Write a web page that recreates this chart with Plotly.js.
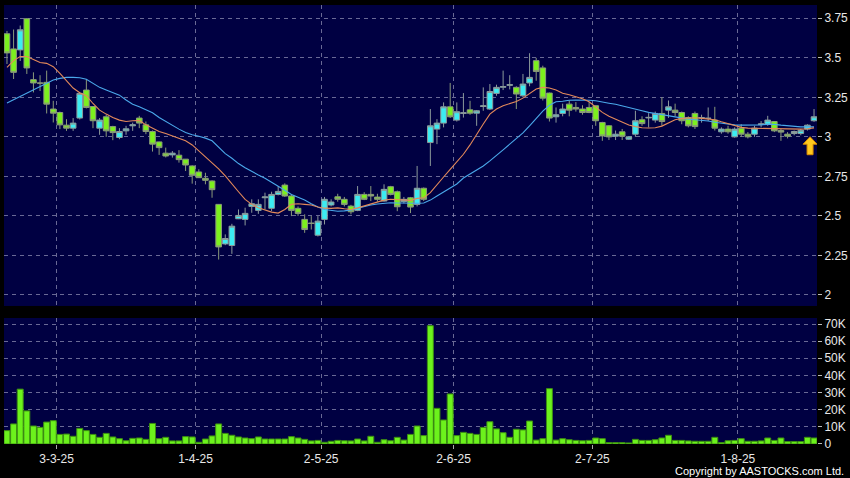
<!DOCTYPE html>
<html>
<head>
<meta charset="utf-8">
<script src="https://cdn.plot.ly/plotly-3.0.1.min.js"></script>
<style>html,body{margin:0;padding:0;background:#000;}#chart{width:850px;height:478px;}</style>
</head>
<body>
<div id="chart"></div>
<script>
// Trading sessions 19-2-25 .. 18-8-25 (index positions)
const openP = [3.652,3.556,3.550,3.747,3.362,3.34,3.345,3.176,3.154,3.074,
3.055,3.119,3.296,3.192,3.055,3.127,3.065,2.996,3.038,3.07,
3.119,3.076,3.034,2.968,2.897,2.886,2.884,2.859,2.816,2.778,
2.738,2.721,2.573,2.323,2.313,2.482,2.478,2.56,2.535,2.615,
2.548,2.636,2.695,2.626,2.548,2.478,2.455,2.378,2.478,2.569,
2.621,2.605,2.562,2.535,2.636,2.636,2.619,2.594,2.685,2.653,
2.59,2.615,2.573,2.675,2.964,3.049,3.087,3.190,3.106,3.148,
3.171,3.150,3.192,3.176,3.275,3.314,3.326,3.313,3.26,3.341,
3.482,3.436,3.277,3.127,3.148,3.207,3.186,3.176,3.186,3.197,
3.091,3.07,3.004,3.032,2.985,3.017,3.108,3.12,3.106,3.148,
3.169,3.169,3.154,3.122,3.148,3.12,3.116,3.106,3.032,3.049,
3.0,3.055,3.017,3.017,3.078,3.08,3.097,3.04,3.017,3.021,
3.021,3.049,3.102];
const highP = [3.67,3.679,3.704,3.75,3.408,3.39,3.419,3.228,3.16,3.112,
3.119,3.28,3.366,3.195,3.119,3.14,3.07,3.055,3.07,3.09,
3.133,3.097,3.04,2.97,2.932,2.91,2.916,2.86,2.82,2.795,
2.773,2.725,2.575,2.383,2.45,2.541,2.552,2.605,2.605,2.647,
2.653,2.689,2.706,2.636,2.56,2.51,2.499,2.499,2.62,2.605,
2.64,2.62,2.57,2.689,2.65,2.689,2.64,2.70,2.69,2.66,
2.62,2.62,2.816,2.68,3.176,3.112,3.218,3.341,3.218,3.277,
3.228,3.17,3.313,3.334,3.33,3.419,3.39,3.32,3.398,3.529,
3.50,3.45,3.28,3.186,3.21,3.23,3.22,3.20,3.22,3.20,
3.095,3.075,3.04,3.05,3.0,3.165,3.13,3.15,3.16,3.25,
3.23,3.21,3.16,3.13,3.16,3.14,3.186,3.19,3.06,3.07,
3.06,3.08,3.03,3.07,3.10,3.133,3.10,3.05,3.03,3.04,
3.05,3.08,3.176];
const lowP = [3.461,3.366,3.48,3.398,3.281,3.29,3.148,3.091,3.049,3.038,
3.038,3.11,3.18,3.055,3.013,3.0,2.979,2.985,3.013,3.038,
3.055,3.017,2.907,2.886,2.87,2.869,2.837,2.784,2.704,2.74,
2.70,2.615,2.224,2.315,2.26,2.48,2.44,2.52,2.513,2.541,
2.53,2.63,2.62,2.499,2.50,2.393,2.414,2.37,2.446,2.56,
2.59,2.56,2.51,2.53,2.60,2.594,2.59,2.59,2.63,2.53,
2.58,2.518,2.56,2.594,2.816,2.954,3.06,3.12,3.097,3.122,
3.14,3.07,3.165,3.17,3.26,3.296,3.30,3.176,3.25,3.32,
3.355,3.23,3.097,3.09,3.13,3.13,3.16,3.14,3.15,3.07,
2.975,2.98,2.98,2.98,2.98,3.0,3.07,3.06,3.09,3.07,
3.12,3.13,3.08,3.06,3.05,3.09,3.1,3.04,3.02,3.02,
2.995,3.0,2.99,3.0,3.06,3.07,3.03,2.975,2.99,3.01,
3.01,3.04,3.095];
const closeP = [3.531,3.408,3.677,3.436,3.341,3.34,3.207,3.150,3.076,3.055,
3.087,3.275,3.186,3.102,3.106,3.038,3.027,3.034,3.051,3.076,
3.087,3.034,2.954,2.932,2.879,2.897,2.856,2.822,2.757,2.742,
2.725,2.666,2.304,2.357,2.435,2.503,2.516,2.577,2.573,2.62,
2.636,2.655,2.626,2.535,2.516,2.414,2.452,2.467,2.605,2.588,
2.605,2.573,2.526,2.636,2.605,2.626,2.605,2.668,2.636,2.558,
2.605,2.556,2.675,2.605,3.070,3.087,3.190,3.127,3.159,3.152,
3.150,3.165,3.196,3.287,3.313,3.318,3.330,3.271,3.334,3.376,
3.414,3.245,3.119,3.14,3.176,3.169,3.176,3.154,3.154,3.102,
3.006,3.0,3.017,3.004,3.0,3.102,3.084,3.123,3.148,3.097,
3.190,3.154,3.102,3.07,3.065,3.122,3.118,3.055,3.049,3.032,
3.049,3.017,3.0,3.055,3.082,3.106,3.038,3.03,3.004,3.034,
3.042,3.074,3.127];
// volume in thousands of shares
const volumeK = [7.8,11.7,32,19.3,10.5,9.7,12.8,13.6,5.6,5.8,
4.5,9.1,7.8,5.6,3.9,6.2,4.1,3.1,1.9,3.3,
3.5,2.7,12,3.1,3.9,1.8,1.8,4.3,4.1,1.0,
2.9,4.7,11.7,6.2,5.1,4.1,3.5,3.1,4.1,2.9,
2.9,2.9,2.9,4.3,3.5,2.7,1.8,2.1,1.0,1.6,
2.1,1.9,1.8,2.9,1.8,4.5,1.0,2.5,1.9,3.9,
2.3,5.6,10.5,4.9,69,20.8,14,29.2,4.9,6.8,
6.2,5.6,9.7,13,8.8,6.6,3.9,8.6,8.2,13.4,
2.3,3.1,32.3,2.3,3.1,2.5,2.1,1.9,2.1,3.5,
3.1,0.8,0.8,0.8,0.6,2.7,2.1,2.1,2.5,3.5,
5.1,2.1,2.1,1.8,1.6,1.6,1.6,3.9,0.8,1.9,
2.1,3.1,1.6,1.6,1.8,3.5,2.1,3.5,1.4,1.4,
1.4,3.9,3.5];
// moving averages
const ma10 = [3.44,3.482,3.508,3.508,3.489,3.47,3.465,3.444,3.402,3.355,
3.309,3.279,3.26,3.211,3.169,3.144,3.122,3.106,3.097,3.102,
3.104,3.076,3.053,3.034,3.021,3.006,2.992,2.975,2.949,2.911,
2.873,2.837,2.797,2.753,2.70,2.653,2.605,2.573,2.551,2.535,
2.524,2.518,2.541,2.573,2.577,2.573,2.569,2.556,2.549,2.548,
2.551,2.545,2.541,2.551,2.564,2.577,2.59,2.60,2.605,2.602,
2.598,2.598,2.611,2.615,2.647,2.70,2.746,2.795,2.843,2.89,
2.949,3.017,3.081,3.144,3.176,3.197,3.211,3.224,3.245,3.275,
3.303,3.313,3.309,3.296,3.276,3.266,3.254,3.241,3.222,3.19,
3.155,3.13,3.11,3.09,3.075,3.065,3.058,3.056,3.058,3.068,
3.089,3.108,3.117,3.121,3.121,3.117,3.114,3.108,3.095,3.082,
3.07,3.06,3.055,3.054,3.054,3.054,3.054,3.051,3.049,3.049,
3.049,3.051,3.057];
const ma20 = [3.214,3.235,3.256,3.275,3.30,3.32,3.338,3.36,3.37,3.376,
3.376,3.374,3.364,3.341,3.313,3.296,3.279,3.264,3.233,3.207,
3.19,3.171,3.152,3.122,3.097,3.07,3.049,3.027,3.013,3.004,
2.992,2.975,2.932,2.894,2.865,2.831,2.805,2.78,2.759,2.738,
2.714,2.687,2.662,2.636,2.619,2.60,2.577,2.556,2.541,2.535,
2.53,2.532,2.537,2.548,2.56,2.569,2.575,2.581,2.583,2.582,
2.58,2.58,2.58,2.582,2.60,2.626,2.653,2.678,2.702,2.74,
2.765,2.79,2.816,2.848,2.886,2.918,2.954,2.987,3.025,3.07,
3.114,3.163,3.20,3.222,3.225,3.232,3.233,3.233,3.232,3.228,
3.219,3.213,3.206,3.197,3.187,3.178,3.165,3.155,3.148,3.14,
3.13,3.124,3.117,3.112,3.108,3.105,3.10,3.092,3.086,3.081,
3.076,3.074,3.074,3.074,3.076,3.079,3.079,3.074,3.07,3.067,
3.063,3.063,3.063];
const tickPos = [7.5, 28.5, 47.5, 67.5, 88.5, 110.5];
const tickText = ['3-3-25','1-4-25','2-5-25','2-6-25','2-7-25','1-8-25'];
const priceTicks = [2, 2.25, 2.5, 2.75, 3, 3.25, 3.5, 3.75];
const priceTickText = ['2','2.25','2.5','2.75','3','3.25','3.5','3.75'];
const volTicks = [0,10000,20000,30000,40000,50000,60000,70000];
const volTickText = ['0','10K','20K','30K','40K','50K','60K','70K'];
// marker arrow (latest session)
const arrowAt = {x: 121.4, y: 3.001};

const idx = openP.map((_, i) => i);
const volume = volumeK.map(v => v * 1000);

const gridC = 'rgba(150,150,185,0.7)';
const font = {family: 'Liberation Sans, Arial, sans-serif', size: 12, color: '#e8e8e8'};

const traces = [
  {type:'scatter', mode:'lines', x: idx, y: ma20, xaxis:'x', yaxis:'y',
   line:{color:'#4aa8ea', width:1.1}, hoverinfo:'skip', showlegend:false},
  {type:'scatter', mode:'lines', x: idx, y: ma10, xaxis:'x', yaxis:'y',
   line:{color:'#e3895a', width:1.1}, hoverinfo:'skip', showlegend:false},
  {type:'candlestick', x: idx, open: openP, high: highP, low: lowP, close: closeP,
   xaxis:'x', yaxis:'y', whiskerwidth:0,
   increasing:{line:{color:'#8c9a9a', width:1}, fillcolor:'#3cecf2'},
   decreasing:{line:{color:'#8a9a7a', width:1}, fillcolor:'#7cf01e'},
   hoverinfo:'skip', showlegend:false},
  {type:'bar', x: idx, y: volume, xaxis:'x2', yaxis:'y2',
   marker:{color:'#6cf21c', line:{color:'#3d8f12', width:1}},
   hoverinfo:'skip', showlegend:false}
];

const layout = {
  width: 850, height: 478,
  paper_bgcolor: '#000000', plot_bgcolor: '#000042',
  margin: {l: 4, r: 33, t: 5, b: 34},
  font: font,
  showlegend: false,
  bargap: 0.1,
  boxgap: 0.15,
  boxgroupgap: 0,
  xaxis: {domain:[0,1], anchor:'y', range:[-0.45, 122.45], rangeslider:{visible:false},
    tickvals: tickPos, ticktext: tickText, showticklabels:false, ticks:'',
    showgrid:true, gridcolor: gridC, griddash:'4px,4px', gridwidth:1, zeroline:false, showline:false},
  xaxis2: {domain:[0,1], anchor:'y2', matches:'x', range:[-0.45, 122.45],
    tickvals: tickPos, ticktext: tickText, ticks:'outside', ticklen:4, tickcolor:'#aaaaaa',
    tickfont: font, showgrid:true, gridcolor: gridC, griddash:'4px,4px', gridwidth:1,
    zeroline:false, showline:false},
  yaxis: {domain:[0.3144, 1], anchor:'x', side:'right', range:[1.9304, 3.834],
    tickvals: priceTicks, ticktext: priceTickText, ticks:'outside', ticklen:4, tickcolor:'#bbbbbb',
    tickfont: font, showgrid:true, gridcolor: gridC, griddash:'4px,4px', gridwidth:1,
    zeroline:false, showline:false},
  yaxis2: {domain:[0, 0.287], anchor:'x2', side:'right', range:[0, 73500],
    tickvals: volTicks, ticktext: volTickText, ticks:'outside', ticklen:4, tickcolor:'#bbbbbb',
    tickfont: font, showgrid:true, gridcolor: gridC, griddash:'4px,4px', gridwidth:1,
    zeroline:false, showline:false},
  shapes: [
    {type:'path', xref:'x', yref:'y', xsizemode:'pixel', ysizemode:'pixel',
     xanchor: arrowAt.x, yanchor: arrowAt.y,
     path:'M0,0 L7,-7.5 L3,-7.5 L3,-18 L-3,-18 L-3,-7.5 L-7,-7.5 Z',
     fillcolor:'#ffc81e', line:{color:'#d98a00', width:1}, layer:'above'}
  ],
  annotations: [
    {xref:'paper', yref:'paper', x:1.0357, y:-0.0615, xanchor:'right', yanchor:'middle',
     text:'Copyright by AASTOCKS.com Ltd.', showarrow:false,
     font:{family:'Liberation Sans, Arial, sans-serif', size:11, color:'#ffffff'}}
  ]
};

Plotly.newPlot('chart', traces, layout, {displayModeBar:false, staticPlot:true});
</script>
</body>
</html>
